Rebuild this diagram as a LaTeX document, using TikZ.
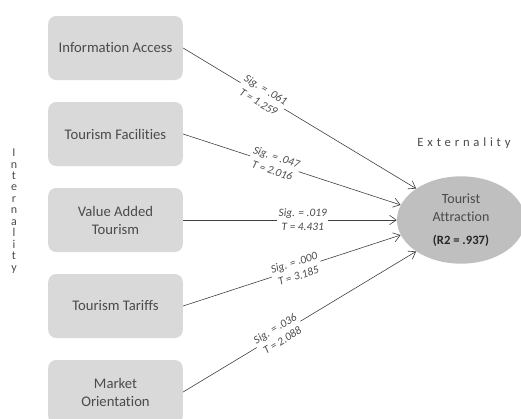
\documentclass[tikz,border=0pt]{standalone}
\usepackage{fontspec}
\setmainfont[Ligatures=NoCommon]{Carlito}
\newfontfamily\spacedfont[LetterSpace=30]{Carlito}
\usetikzlibrary{shapes.geometric,arrows.meta}
\definecolor{boxgray}{HTML}{D9D9D9}
\definecolor{ovalgray}{HTML}{BFBFBF}
\definecolor{textgray}{HTML}{4A4A4A}
\tikzset{
  factor/.style={rectangle, rounded corners=6pt, fill=boxgray, text=textgray,
    minimum width=101pt, minimum height=48pt, align=center,
    font=\fontsize{11}{13.5}\selectfont},
  link/.style={draw=black!75, line width=0.45pt, -{Straight Barb[length=5pt,width=7pt]}},
  coef/.style={fill=white, sloped, align=center, inner sep=1pt, text=textgray,
    font=\fontsize{8.5}{10.5}\selectfont\itshape}
}
\begin{document}
\begin{tikzpicture}[x=0.75pt,y=-0.75pt]
  \useasboundingbox (0,0) rectangle (521,418);

  % Internality factors
  \node[factor] (ia)  at (115.5,48)  {Information Access};
  \node[factor] (tf)  at (115.5,134) {Tourism Facilities};
  \node[factor] (vat) at (115.5,220) {Value Added\\Tourism};
  \node[factor] (tt)  at (115.5,306) {Tourism Tariffs};
  \node[factor] (mo)  at (115.5,392) {Market\\Orientation};

  % Externality
  \node[ellipse, fill=ovalgray, text=textgray, minimum width=96pt, minimum height=65pt,
    align=center, font=\fontsize{10.5}{13.5}\selectfont] (ta) at (461,220)
    {Tourist\\Attraction\\[4pt]{\color{black!85}\bfseries\fontsize{9.5}{11}\selectfont (R2 = .937)}};

  % Side labels
  \node[align=center, text=textgray, font=\fontsize{9}{8.6}\selectfont] (intl) at (14,211)
    {I\\n\\t\\e\\r\\n\\a\\l\\i\\t\\y};
  \node[text=textgray, font=\fontsize{9.5}{11}\selectfont] (extl) at (464,143)
    {\spacedfont Externality};

  % Paths with coefficients
  \draw[link] (ia.east)  -- node[coef, pos=.34] {Sig. = .061\\T = 1.259} (ta.145);
  \draw[link] (tf.east)  -- node[coef, pos=.42] {Sig. = .047\\T = 2.016} (ta.166);
  \draw[link] (vat.east) -- node[coef, pos=.56] {Sig. = .019\\T = 4.431} (ta.west);
  \draw[link] (tt.east)  -- node[coef, pos=.52] {Sig. = .000\\T = 3.185} (ta.194);
  \draw[link] (mo.east)  -- node[coef, pos=.41] {Sig. = .036\\T = 2.088} (ta.215);

\end{tikzpicture}
\end{document}
